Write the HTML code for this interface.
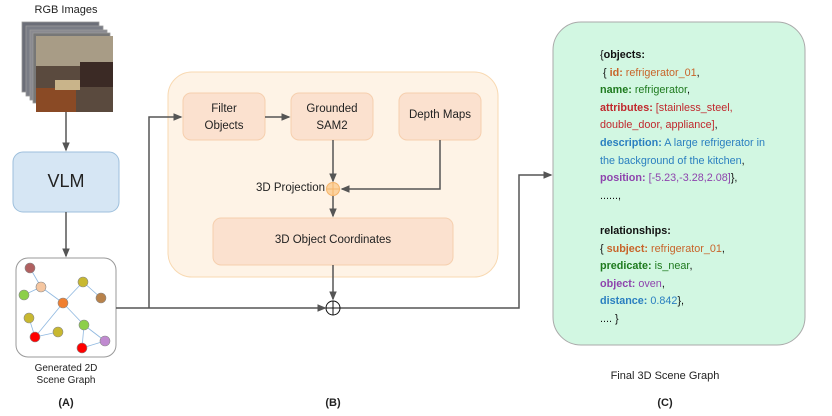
<!DOCTYPE html>
<html><head><style>
body{margin:0;width:832px;height:416px;background:#fff;font-family:"Liberation Sans",sans-serif;overflow:hidden;position:relative}
.a{position:absolute}
.t{position:absolute;font-size:11px;color:#222;text-align:center}
.code{position:absolute;left:600px;top:47px;font-size:10.8px;line-height:17.6px;color:#111}
.code b{font-weight:bold}
.o{color:#c8642a}.g{color:#1e7a1e}.r{color:#c0282d}.bl{color:#2a7fc0}.p{color:#8e44ad}
</style></head><body>
<svg class="a" style="left:0;top:0" width="832" height="416">
<defs><marker id="ar" markerWidth="6" markerHeight="6" refX="5" refY="3" orient="auto"><path d="M0,0.5 L6,3 L0,5.5z" fill="#555"/></marker></defs>
<g stroke="#999" stroke-width="0.8">
<rect x="22" y="22" width="77" height="70" fill="#6b6e78"/>
<rect x="26" y="26" width="77" height="70" fill="#7a7d86"/>
<rect x="30" y="30" width="77" height="70" fill="#8a8a90"/>
<rect x="33" y="33" width="77" height="70" fill="#777"/>
</g>
<rect x="36" y="36" width="77" height="76" fill="#5a4a3e"/>
<rect x="36" y="36" width="77" height="30" fill="#a89c86"/>
<rect x="80" y="62" width="33" height="25" fill="#3b2a25"/>
<rect x="36" y="88" width="40" height="24" fill="#8a4a25"/>
<rect x="55" y="80" width="25" height="10" fill="#c9b48a"/>
<rect x="13" y="152" width="106" height="60" rx="10" fill="#d6e6f4" stroke="#9dbfdc"/>
<line x1="66" y1="112" x2="66" y2="150" stroke="#555" stroke-width="1.5" marker-end="url(#ar)"/>
<line x1="66" y1="212" x2="66" y2="256" stroke="#555" stroke-width="1.5" marker-end="url(#ar)"/>
<rect x="16" y="258" width="100" height="99" rx="12" fill="#fff" stroke="#999"/>
<g stroke="#8fb8e0" stroke-width="0.8">
<line x1="30" y1="268" x2="41" y2="287"/><line x1="41" y1="287" x2="24" y2="295"/><line x1="41" y1="287" x2="63" y2="303"/>
<line x1="63" y1="303" x2="83" y2="282"/><line x1="63" y1="303" x2="35" y2="337"/><line x1="63" y1="303" x2="84" y2="325"/>
<line x1="35" y1="337" x2="58" y2="332"/><line x1="84" y1="325" x2="105" y2="341"/><line x1="82" y1="348" x2="105" y2="341"/>
<line x1="84" y1="325" x2="82" y2="348"/><line x1="29" y1="318" x2="35" y2="337"/><line x1="83" y1="282" x2="101" y2="298"/>
</g>
<g stroke="#888" stroke-width="0.6">
<circle cx="30" cy="268" r="5" fill="#b06060"/><circle cx="41" cy="287" r="5" fill="#f5c6a0"/><circle cx="24" cy="295" r="5" fill="#8ccf4a"/>
<circle cx="63" cy="303" r="5" fill="#f07f30"/><circle cx="83" cy="282" r="5" fill="#c8b830"/><circle cx="101" cy="298" r="5" fill="#b8824a"/>
<circle cx="29" cy="318" r="5" fill="#c8b830"/><circle cx="35" cy="337" r="5" fill="#f00"/><circle cx="58" cy="332" r="5" fill="#c8b830"/>
<circle cx="84" cy="325" r="5" fill="#8ccf4a"/><circle cx="105" cy="341" r="5" fill="#c08ad0"/><circle cx="82" cy="348" r="5" fill="#f00"/>
</g>
<rect x="168" y="72" width="330" height="205" rx="24" fill="#fef3e6" stroke="#f8d9b2"/>
<rect x="183" y="93" width="82" height="47" rx="8" fill="#fbe1cf" stroke="#f6cfae"/>
<rect x="291" y="93" width="82" height="47" rx="8" fill="#fbe1cf" stroke="#f6cfae"/>
<rect x="399" y="93" width="82" height="47" rx="8" fill="#fbe1cf" stroke="#f6cfae"/>
<rect x="213" y="218" width="240" height="47" rx="8" fill="#fbe1cf" stroke="#f6cfae"/>
<line x1="265" y1="117" x2="289" y2="117" stroke="#555" stroke-width="1.5" marker-end="url(#ar)"/>
<line x1="333" y1="140" x2="333" y2="181" stroke="#555" stroke-width="1.5" marker-end="url(#ar)"/>
<polyline points="440,140 440,189 342,189" fill="none" stroke="#555" stroke-width="1.5" marker-end="url(#ar)"/>
<circle cx="333" cy="189" r="6.5" fill="#fcd3a0" stroke="#f5b46a"/>
<line x1="326.5" y1="189" x2="339.5" y2="189" stroke="#f5b46a"/><line x1="333" y1="182.5" x2="333" y2="195.5" stroke="#f5b46a"/>
<line x1="333" y1="196" x2="333" y2="216" stroke="#555" stroke-width="1.5" marker-end="url(#ar)"/>
<line x1="333" y1="265" x2="333" y2="299" stroke="#555" stroke-width="1.5" marker-end="url(#ar)"/>
<line x1="116" y1="308" x2="325" y2="308" stroke="#555" stroke-width="1.5" marker-end="url(#ar)"/>
<polyline points="149,308 149,117 181,117" fill="none" stroke="#555" stroke-width="1.5" marker-end="url(#ar)"/>
<polyline points="340,308 519,308 519,175 551,175" fill="none" stroke="#555" stroke-width="1.5" marker-end="url(#ar)"/>
<circle cx="333" cy="308" r="7" fill="#fff" stroke="#111"/>
<line x1="326" y1="308" x2="340" y2="308" stroke="#111"/><line x1="333" y1="301" x2="333" y2="315" stroke="#111"/>
<rect x="553" y="22" width="252" height="323" rx="28" fill="#d2f7e2" stroke="#aaa"/>
</svg>
<div class="t" style="left:16px;top:4px;width:100px">RGB Images</div>
<div class="a" style="left:13px;top:171px;width:106px;text-align:center;font-size:18px;color:#222">VLM</div>
<div class="t" style="left:6px;top:363px;width:120px;font-size:10px;line-height:12px">Generated 2D<br>Scene Graph</div>
<div class="t" style="left:46px;top:397px;width:40px;font-weight:bold;font-size:11px">(A)</div>
<div class="t" style="left:313px;top:397px;width:40px;font-weight:bold;font-size:11px">(B)</div>
<div class="t" style="left:645px;top:397px;width:40px;font-weight:bold;font-size:11px">(C)</div>
<div class="t" style="left:600px;top:370px;width:130px">Final 3D Scene Graph</div>
<div class="t" style="left:183px;top:101px;width:82px;line-height:17px;font-size:11.5px">Filter<br>Objects</div>
<div class="t" style="left:291px;top:101px;width:82px;line-height:17px;font-size:11.5px">Grounded<br>SAM2</div>
<div class="t" style="left:399px;top:109px;width:82px;font-size:11.5px">Depth Maps</div>
<div class="t" style="left:226px;top:182px;width:99px;text-align:right;font-size:11.5px">3D Projection</div>
<div class="t" style="left:213px;top:234px;width:240px;font-size:11.5px">3D Object Coordinates</div>
<div class="code">
{<b>objects:</b><br>
&nbsp;{ <span class="o"><b>id:</b> refrigerator_01</span>,<br>
<b class="g">name:</b> <span class="g">refrigerator</span>,<br>
<span class="r"><b>attributes:</b> [stainless_steel,</span><br>
<span class="r">double_door, appliance]</span>,<br>
<span class="bl"><b>description:</b> A large refrigerator in</span><br>
<span class="bl">the background of the kitchen</span>,<br>
<span class="p"><b>position:</b> [-5.23,-3.28,2.08]</span>},<br>
......,<br><br>
<b>relationships:</b><br>
{ <span class="o"><b>subject:</b> refrigerator_01</span>,<br>
<span class="g"><b>predicate:</b> is_near</span>,<br>
<span class="p"><b>object:</b> oven</span>,<br>
<span class="bl"><b>distance:</b> 0.842</span>},<br>
.... }
</div>
</body></html>
